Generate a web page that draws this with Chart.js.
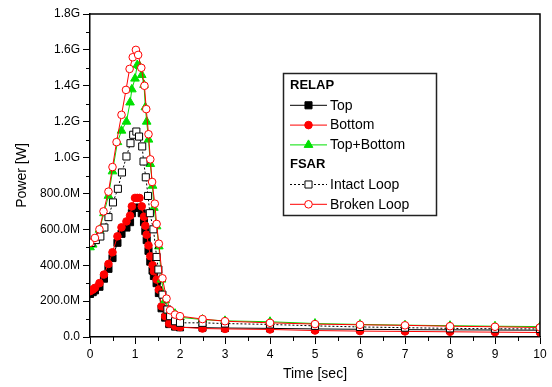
<!DOCTYPE html>
<html>
<head>
<meta charset="utf-8">
<script src="https://cdn.jsdelivr.net/npm/chart.js@4"></script>
<style>
  html, body { margin: 0; padding: 0; background: #fff; }
  #c { display: block; }
</style>
</head>
<body>
<canvas id="c" width="552" height="387"></canvas>
<script>
// power values in GW, time in seconds
const relapTime = [0, 0.06, 0.11, 0.21, 0.31, 0.41, 0.50, 0.61, 0.70, 0.81, 0.89, 0.93, 1.0, 1.05, 1.10, 1.15, 1.20, 1.23, 1.26, 1.30, 1.34, 1.39, 1.42, 1.48, 1.53, 1.59, 1.67, 1.76, 1.89, 2.0, 2.5, 3, 4, 5, 6, 7, 8, 9, 10];
const relapTop = [0.24, 0.25, 0.26, 0.28, 0.325, 0.38, 0.44, 0.525, 0.575, 0.61, 0.64, 0.69, 0.72, 0.72, 0.72, 0.69, 0.64, 0.59, 0.54, 0.48, 0.42, 0.37, 0.34, 0.30, 0.245, 0.16, 0.108, 0.072, 0.058, 0.054, 0.052, 0.05, 0.048, 0.045, 0.043, 0.041, 0.04, 0.039, 0.038];
const relapBottom = [0.255, 0.264, 0.274, 0.30, 0.348, 0.407, 0.472, 0.561, 0.611, 0.644, 0.676, 0.728, 0.775, 0.775, 0.775, 0.728, 0.67, 0.62, 0.57, 0.51, 0.45, 0.40, 0.366, 0.32, 0.264, 0.171, 0.116, 0.075, 0.06, 0.055, 0.047, 0.045, 0.042, 0.036, 0.033, 0.031, 0.029, 0.027, 0.025];
const relapTopBottom = [0.50, 0.515, 0.535, 0.598, 0.69, 0.787, 0.923, 1.086, 1.15, 1.20, 1.307, 1.38, 1.44, 1.516, 1.51, 1.46, 1.405, 1.28, 1.20, 1.10, 0.964, 0.843, 0.72, 0.617, 0.505, 0.32, 0.205, 0.145, 0.13, 0.11, 0.097, 0.09, 0.085, 0.075, 0.07, 0.066, 0.063, 0.06, 0.058];

const intactTime = [0.03, 0.13, 0.23, 0.32, 0.41, 0.51, 0.62, 0.71, 0.81, 0.90, 0.96, 1.03, 1.09, 1.16, 1.19, 1.24, 1.29, 1.33, 1.41, 1.48, 1.52, 1.61, 1.72, 1.78, 1.89, 2.0, 2.5, 3, 4, 5, 6, 7, 8, 9, 10];
const intactPower = [0.524, 0.54, 0.56, 0.61, 0.668, 0.75, 0.826, 0.917, 1.006, 1.08, 1.127, 1.145, 1.117, 1.062, 0.978, 0.89, 0.786, 0.69, 0.60, 0.446, 0.376, 0.236, 0.153, 0.116, 0.088, 0.079, 0.079, 0.075, 0.07, 0.062, 0.056, 0.052, 0.048, 0.046, 0.045];

const brokenTime = [0, 0.11, 0.21, 0.30, 0.41, 0.50, 0.59, 0.70, 0.80, 0.88, 0.95, 1.02, 1.07, 1.14, 1.21, 1.25, 1.30, 1.34, 1.38, 1.44, 1.48, 1.53, 1.61, 1.70, 1.78, 1.89, 2.0, 2.5, 3, 4, 5, 6, 7, 8, 9, 10];
const brokenPower = [0.525, 0.552, 0.60, 0.70, 0.81, 0.947, 1.086, 1.238, 1.377, 1.494, 1.559, 1.60, 1.572, 1.50, 1.40, 1.27, 1.13, 0.99, 0.864, 0.743, 0.63, 0.52, 0.327, 0.214, 0.149, 0.125, 0.116, 0.10, 0.088, 0.079, 0.072, 0.068, 0.065, 0.060, 0.057, 0.053];

const xTicks = [0, 1, 2, 3, 4, 5, 6, 7, 8, 9, 10];
const yTickLabels = ['0.0', '200.0M', '400.0M', '600.0M', '800.0M', '1.0G', '1.2G', '1.4G', '1.6G', '1.8G'];
const legendGroups = ['RELAP', 'FSAR'];

const FONT = "'Liberation Sans', Arial, sans-serif";
const pts = (xs, ys) => xs.map((x, i) => ({ x, y: ys[i] }));

function drawMarker(ctx, style, r, x, y, fill, stroke) {
  ctx.beginPath();
  if (style === 'rect') {
    const s = r * Math.SQRT1_2;
    ctx.rect(x - s, y - s, 2 * s, 2 * s);
  } else if (style === 'triangle') {
    let a = 0;
    ctx.moveTo(x + Math.sin(a) * r, y - Math.cos(a) * r);
    a += 2 * Math.PI / 3; ctx.lineTo(x + Math.sin(a) * r, y - Math.cos(a) * r);
    a += 2 * Math.PI / 3; ctx.lineTo(x + Math.sin(a) * r, y - Math.cos(a) * r);
    ctx.closePath();
  } else {
    ctx.arc(x, y, r, 0, Math.PI * 2);
  }
  ctx.fillStyle = fill; ctx.fill();
  ctx.strokeStyle = stroke; ctx.lineWidth = 1; ctx.setLineDash([]); ctx.stroke();
}

// minor ticks + closing frame
const frame = {
  id: 'frame',
  afterDraw(chart) {
    const { ctx, chartArea: a, scales: { x, y } } = chart;
    ctx.save();
    ctx.strokeStyle = '#000';
    ctx.lineWidth = 1;
    for (let i = 0; i < xTicks.length - 1; i++) {
      const px = Math.round(x.getPixelForValue(xTicks[i] + 0.5)) + 0.5;
      ctx.beginPath(); ctx.moveTo(px, a.bottom); ctx.lineTo(px, a.bottom + 4); ctx.stroke();
    }
    for (let i = 0; i < yTickLabels.length - 1; i++) {
      const py = Math.round(y.getPixelForValue(0.2 * i + 0.1)) + 0.5;
      ctx.beginPath(); ctx.moveTo(a.left, py); ctx.lineTo(a.left - 4, py); ctx.stroke();
    }
    ctx.lineWidth = 1.5;
    ctx.beginPath();
    ctx.moveTo(a.left, a.top); ctx.lineTo(a.right, a.top); ctx.lineTo(a.right, a.bottom);
    ctx.stroke();
    ctx.restore();
  }
};

const legendBox = {
  id: 'legendBox',
  afterDraw(chart) {
    const ctx = chart.ctx;
    const ds = chart.data.datasets;
    ctx.save();
    ctx.fillStyle = '#fff';
    ctx.fillRect(283, 73, 153, 143);
    ctx.strokeStyle = '#222';
    ctx.lineWidth = 1.5;
    ctx.strokeRect(283.5, 73.5, 153, 142);
    const rows = [
      { head: legendGroups[0] }, { d: 0 }, { d: 1 }, { d: 2 },
      { head: legendGroups[1] }, { d: 3 }, { d: 4 }
    ];
    let y = 85;
    ctx.textBaseline = 'middle';
    rows.forEach(row => {
      if (row.head) {
        ctx.font = `bold 13px ${FONT}`;
        ctx.fillStyle = '#000';
        ctx.fillText(row.head, 290, y);
      } else {
        const d = ds[row.d];
        ctx.strokeStyle = d.borderColor;
        ctx.lineWidth = 1;
        ctx.setLineDash(d.borderDash || []);
        ctx.beginPath(); ctx.moveTo(290, y + 0.5); ctx.lineTo(327, y + 0.5); ctx.stroke();
        drawMarker(ctx, d.pointStyle, d.pointRadius, 308.5, y + 0.5, d.pointBackgroundColor, d.pointBorderColor);
        ctx.font = `14px ${FONT}`;
        ctx.fillStyle = '#000';
        ctx.fillText(d.label, 330, y + 1);
      }
      y += 19.8;
    });
    ctx.restore();
  }
};

new Chart(document.getElementById('c'), {
  type: 'line',
  data: {
    datasets: [
      { label: 'Top', data: pts(relapTime, relapTop), borderColor: '#000', pointStyle: 'rect', pointRadius: 5,
        pointBackgroundColor: '#000', pointBorderColor: '#000', order: 4 },
      { label: 'Bottom', data: pts(relapTime, relapBottom), borderColor: '#ff0000', pointStyle: 'circle', pointRadius: 3.8,
        pointBackgroundColor: '#ff0000', pointBorderColor: '#ff0000', order: 3 },
      { label: 'Top+Bottom', data: pts(relapTime, relapTopBottom), borderColor: '#00e000', pointStyle: 'triangle', pointRadius: 5,
        pointBackgroundColor: '#00e000', pointBorderColor: '#00e000', order: 2 },
      { label: 'Intact Loop', data: pts(intactTime, intactPower), borderColor: '#000', borderDash: [2, 2], pointStyle: 'rect', pointRadius: 5,
        pointBackgroundColor: '#fff', pointBorderColor: '#000', order: 1 },
      { label: 'Broken Loop', data: pts(brokenTime, brokenPower), borderColor: '#ff0000', pointStyle: 'circle', pointRadius: 3.8,
        pointBackgroundColor: '#fff', pointBorderColor: '#ff0000', order: 0 }
    ].map(d => Object.assign({ borderWidth: 1, pointBorderWidth: 1, tension: 0, pointHoverRadius: d.pointRadius }, d))
  },
  options: {
    responsive: false,
    animation: false,
    devicePixelRatio: 1,
    layout: { padding: { top: 14, right: 12, left: 10, bottom: 0 } },
    plugins: { legend: { display: false }, tooltip: { enabled: false } },
    scales: {
      x: {
        type: 'linear', min: 0, max: 10,
        afterBuildTicks: s => { s.ticks = xTicks.map(v => ({ value: v })); },
        afterFit: s => { s.height = 50; },
        ticks: { color: '#000', font: { family: FONT, size: 12 }, padding: 3, maxRotation: 0, callback: v => String(v) },
        grid: { drawOnChartArea: false, tickLength: 7, tickColor: '#000', tickWidth: 1 },
        border: { color: '#000', width: 1.5 },
        title: { display: true, text: 'Time [sec]', color: '#000', font: { family: FONT, size: 14 }, padding: { top: 2 } }
      },
      y: {
        type: 'linear', min: 0, max: 1.8,
        afterBuildTicks: s => { s.ticks = yTickLabels.map((_, i) => ({ value: +(0.2 * i).toFixed(1) })); },
        afterFit: s => { s.width = 80; },
        ticks: { color: '#000', font: { family: FONT, size: 12 }, padding: 3,
          callback: (v, i) => yTickLabels[i] },
        grid: { drawOnChartArea: false, tickLength: 7, tickColor: '#000', tickWidth: 1 },
        border: { color: '#000', width: 1.5 },
        title: { display: true, text: 'Power [W]', color: '#000', font: { family: FONT, size: 14 }, padding: { bottom: 2 } }
      }
    }
  },
  plugins: [frame, legendBox]
});
</script>
</body>
</html>
